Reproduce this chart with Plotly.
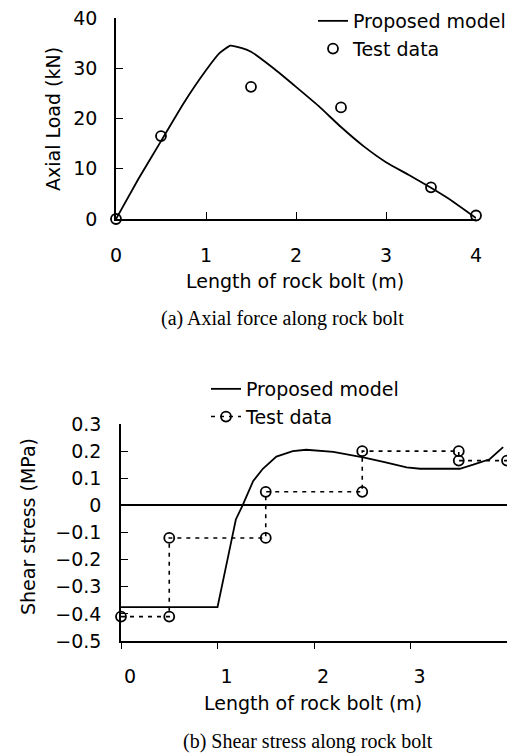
import plotly.graph_objects as go

# ---------------- data ----------------
# (a) Axial force along rock bolt
model_len_a = [0, 0.25, 0.5, 0.75, 1.0, 1.15, 1.27, 1.4, 1.5, 1.75, 2.0, 2.25, 2.5, 2.75, 3.0, 3.25, 3.5, 3.75, 4.0]
model_load_a = [0, 8, 15.5, 23, 29.6, 33, 34.5, 34, 33.3, 30, 26.3, 22.5, 18.3, 14.5, 11.3, 8.8, 6.2, 3.4, 0.2]
test_len_a = [0, 0.5, 1.5, 2.5, 3.5, 4.0]
test_load_a = [0, 16.5, 26.3, 22.2, 6.3, 0.7]

# (b) Shear stress along rock bolt
model_len_b = [0, 1.0, 1.13, 1.19, 1.26, 1.37, 1.47, 1.61, 1.78, 1.92, 2.2, 2.51, 2.72, 2.96, 3.1, 3.51, 3.65, 3.82, 3.96]
model_tau_b = [-0.375, -0.375, -0.155, -0.052, 0, 0.09, 0.135, 0.18, 0.2, 0.205, 0.197, 0.177, 0.16, 0.14, 0.135, 0.135, 0.15, 0.17, 0.215]
test_len_b = [0, 0.5, 0.5, 1.5, 1.5, 2.5, 2.5, 3.5, 3.5, 4.0]
test_tau_b = [-0.41, -0.41, -0.12, -0.12, 0.05, 0.05, 0.2, 0.2, 0.165, 0.165]

xticks = [0, 1, 2, 3, 4]
xtick_text = ["0", "1", "2", "3", "4"]
yticks_a = [0, 10, 20, 30, 40]
yticks_b = [0.3, 0.2, 0.1, 0, -0.1, -0.2, -0.3, -0.4, -0.5]
ytick_text_b = ["0.3", "0.2", "0.1", "0", "\u22120.1", "\u22120.2", "\u22120.3", "\u22120.4", "\u22120.5"]

# page is 515x756; the html body has an 8px margin
OFF = 8
W, H = 515 - OFF, 756 - OFF
SANS = "DejaVu Sans"
SERIF = "Liberation Serif"
FS = 19


def px(x):
    return (x - OFF) / W


def py(y):
    return 1 - (y - OFF) / H


fig = go.Figure()

# top chart
fig.add_trace(go.Scatter(x=model_len_a, y=model_load_a, mode="lines", name="Proposed model",
                         line=dict(color="black", width=1.8, shape="spline", smoothing=0.4),
                         xaxis="x", yaxis="y", legend="legend", cliponaxis=False))
fig.add_trace(go.Scatter(x=test_len_a, y=test_load_a, mode="markers", name="Test data",
                         marker=dict(symbol="circle-open", size=10, color="black", line=dict(width=1.8)),
                         xaxis="x", yaxis="y", legend="legend", cliponaxis=False))

# bottom chart
fig.add_trace(go.Scatter(x=model_len_b, y=model_tau_b, mode="lines", name="Proposed model",
                         line=dict(color="black", width=1.8),
                         xaxis="x2", yaxis="y2", legend="legend2", cliponaxis=False))
fig.add_trace(go.Scatter(x=test_len_b, y=test_tau_b, mode="lines+markers", name="Test data",
                         line=dict(color="black", width=1.6, dash="4px,5px"),
                         marker=dict(symbol="circle-open", size=10, color="black", line=dict(width=1.8)),
                         xaxis="x2", yaxis="y2", legend="legend2", cliponaxis=False))

tickfont = dict(family=SANS, size=FS, color="black")
common = dict(tickcolor="black", showline=True, linecolor="black", linewidth=1.5,
              showgrid=False, tickfont=tickfont, automargin=False, tickwidth=1.3,
              ticklabeloverflow="allow")

fig.update_layout(
    width=W, height=H,
    margin=dict(l=0, r=0, t=0, b=0, autoexpand=False),
    paper_bgcolor="white", plot_bgcolor="white",
    xaxis=dict(domain=[px(116), px(476)], range=[0, 4], anchor="y",
               tickvals=xticks, ticktext=xtick_text, ticks="inside", ticklen=7,
               zeroline=False, ticklabelstandoff=18, **common),
    yaxis=dict(domain=[py(219), py(18)], range=[0, 40], anchor="x",
               tickvals=yticks_a, ticks="inside", ticklen=7,
               zeroline=False, ticklabelstandoff=13, **common),
    xaxis2=dict(domain=[px(121), px(507)], range=[0, 4], anchor="y2",
                tickvals=xticks, ticktext=xtick_text, ticks="outside", ticklen=6,
                zeroline=False, ticklabelstandoff=11, ticklabelshift=9, **common),
    yaxis2=dict(domain=[py(641), py(424)], range=[-0.5, 0.3], anchor="x2",
                tickvals=yticks_b, ticktext=ytick_text_b, ticks="inside", ticklen=7,
                zeroline=True, zerolinecolor="black", zerolinewidth=1.8,
                ticklabelstandoff=14, **common),
    legend=dict(x=px(313), y=py(2), xanchor="left", yanchor="top",
                bgcolor="rgba(0,0,0,0)", font=dict(family=SANS, size=FS, color="black"),
                tracegroupgap=0, itemwidth=30),
    legend2=dict(x=px(206), y=py(370), xanchor="left", yanchor="top",
                 bgcolor="rgba(0,0,0,0)", font=dict(family=SANS, size=FS, color="black"),
                 tracegroupgap=0, itemwidth=30),
    showlegend=True,
)

annotations = [
    dict(text="Length of rock bolt (m)", x=px(295), y=py(281), font=dict(family=SANS, size=FS)),
    dict(text="Axial Load (kN)", x=px(53), y=py(119), textangle=-90, font=dict(family=SANS, size=FS)),
    dict(text="(a) Axial force along rock bolt", x=px(282), y=py(318), font=dict(family=SERIF, size=20)),
    dict(text="Length of rock bolt (m)", x=px(313), y=py(703), font=dict(family=SANS, size=FS)),
    dict(text="Shear stress (MPa)", x=px(28), y=py(527), textangle=-90, font=dict(family=SANS, size=FS)),
    dict(text="(b) Shear stress along rock bolt", x=px(308), y=py(741), font=dict(family=SERIF, size=20)),
]
for a in annotations:
    a.update(xref="paper", yref="paper", xanchor="center", yanchor="middle", showarrow=False)
    a["font"]["color"] = "black"
fig.update_layout(annotations=annotations)

fig.write_html("out.html")
